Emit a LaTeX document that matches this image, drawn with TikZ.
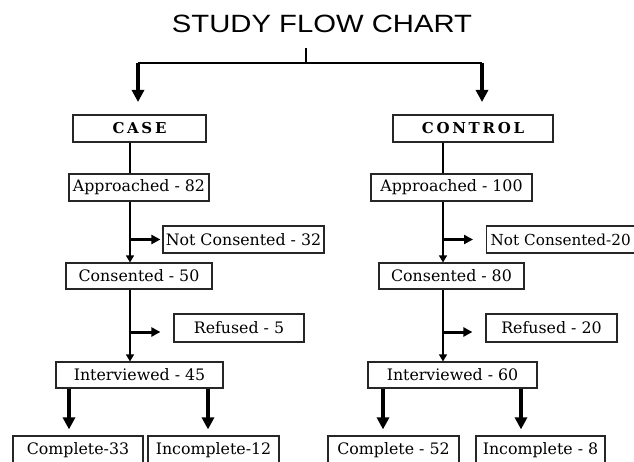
\documentclass[tikz,border=0pt]{standalone}
\usepackage{fontspec}
\setmainfont{DejaVu Serif}
\newfontfamily\titlefont[FakeStretch=1.17]{Liberation Sans}
\usetikzlibrary{arrows.meta}

\begin{document}
\begin{tikzpicture}[x=1pt,y=-1pt,
 box/.style={draw=black!85, line width=1.2pt, inner sep=0pt, font=\fontsize{15.8}{19}\selectfont},
 hdr/.style={draw=black!85, line width=1.2pt, inner sep=0pt, font=\fontsize{15}{18}\selectfont\bfseries\addfontfeatures{LetterSpace=18}},
 thinline/.style={line width=1.2pt},
 bigarr/.style={line width=4pt, -{Triangle[width=12pt,length=12pt]}},
 brarr/.style={line width=3pt, -{Triangle[width=9pt,length=9pt]}},
 downarr/.style={line width=1.3pt, -{Triangle[width=8pt,length=7pt]}},
]
\useasboundingbox (0,0) rectangle (634,462);
\fill[white] (0,0) rectangle (634,462);
\clip (0,0) rectangle (634,462);

% title
\node[font=\titlefont\fontsize{25}{30}\selectfont, inner sep=0pt] (title) at (322,24) {STUDY FLOW CHART};

% headers
\node[hdr, minimum width=133pt, minimum height=27pt] (case) at (139.5,128.5) {CASE};
\node[hdr, minimum width=160pt, minimum height=27pt] (control) at (473,128.5) {CONTROL};

% case column
\node[box, minimum width=140pt, minimum height=27pt] (ap1) at (139,187.5) {Approached - 82};
\node[box, minimum width=161pt, minimum height=27pt] (nc1) at (243.5,239.5) {Not Consented - 32};
\node[box, minimum width=146pt, minimum height=26pt] (co1) at (139,276) {Consented - 50};
\node[box, minimum width=130pt, minimum height=28pt] (rf1) at (239,328) {Refused - 5};
\node[box, minimum width=167pt, minimum height=26pt] (iv1) at (139.5,375) {Interviewed - 45};
\node[box, minimum width=130pt, minimum height=28pt] (cp1) at (78,450) {Complete-33};
\node[box, minimum width=131pt, minimum height=28pt] (ic1) at (213.5,450) {Incomplete-12};

% control column
\node[box, font=\fontsize{15.2}{19}\selectfont, text width=149pt, inner xsep=4pt, align=left, minimum height=27pt, anchor=west] (nc2) at (486,239.5) {Not Consented-20};
\node[box, minimum width=161pt, minimum height=27pt] (ap2) at (451.5,187.5) {Approached - 100};
\node[box, minimum width=145pt, minimum height=26pt] (co2) at (451.5,276) {Consented - 80};
\node[box, minimum width=131pt, minimum height=28pt] (rf2) at (551.5,328) {Refused - 20};
\node[box, minimum width=169pt, minimum height=26pt] (iv2) at (452.5,375) {Interviewed - 60};
\node[box, minimum width=131pt, minimum height=28pt] (cp2) at (393.5,450) {Complete - 52};
\node[box, minimum width=129pt, minimum height=28pt] (ic2) at (540.5,450) {Incomplete - 8};

% coordinates
\coordinate (s0) at (306,48);
\coordinate (s1) at (306,63);
\coordinate (L) at (138,63);
\coordinate (R) at (482,63);
\coordinate (La) at (138,102);
\coordinate (Ra) at (482,102);
\coordinate (c1) at (130,0);
\coordinate (c2) at (443,0);
\coordinate (a1) at (69,0);
\coordinate (a2) at (208,0);
\coordinate (a3) at (383,0);
\coordinate (a4) at (521,0);

% top split
\draw[thinline] (s0) -- (s1);
\draw[line width=1.5pt] (L) -- (R);
\draw[bigarr] (L) -- (La);
\draw[bigarr] (R) -- (Ra);

% case flow
\draw[thinline] (case.south -| c1) -- (ap1.north -| c1);
\draw[downarr] (ap1.south -| c1) -- (co1.north -| c1);
\draw[brarr] (c1 |- nc1.west) -- ([xshift=-2pt]nc1.west);
\draw[downarr] (co1.south -| c1) -- (iv1.north -| c1);
\draw[brarr] ([yshift=-4pt]c1 |- rf1.west) -- ([xshift=-13pt,yshift=-4pt]rf1.west);
\draw[bigarr, shorten >=6pt] (iv1.south -| a1) -- (cp1.north -| a1);
\draw[bigarr, shorten >=6pt] (iv1.south -| a2) -- (ic1.north -| a2);

% control flow
\draw[thinline] (control.south -| c2) -- (ap2.north -| c2);
\draw[downarr] (ap2.south -| c2) -- (co2.north -| c2);
\draw[brarr] (c2 |- nc2.west) -- ([xshift=-13pt]nc2.west);
\draw[downarr] (co2.south -| c2) -- (iv2.north -| c2);
\draw[brarr] ([yshift=-4pt]c2 |- rf2.west) -- ([xshift=-13pt,yshift=-4pt]rf2.west);
\draw[bigarr, shorten >=6pt] (iv2.south -| a3) -- (cp2.north -| a3);
\draw[bigarr, shorten >=6pt] (iv2.south -| a4) -- (ic2.north -| a4);
\end{tikzpicture}
\end{document}
